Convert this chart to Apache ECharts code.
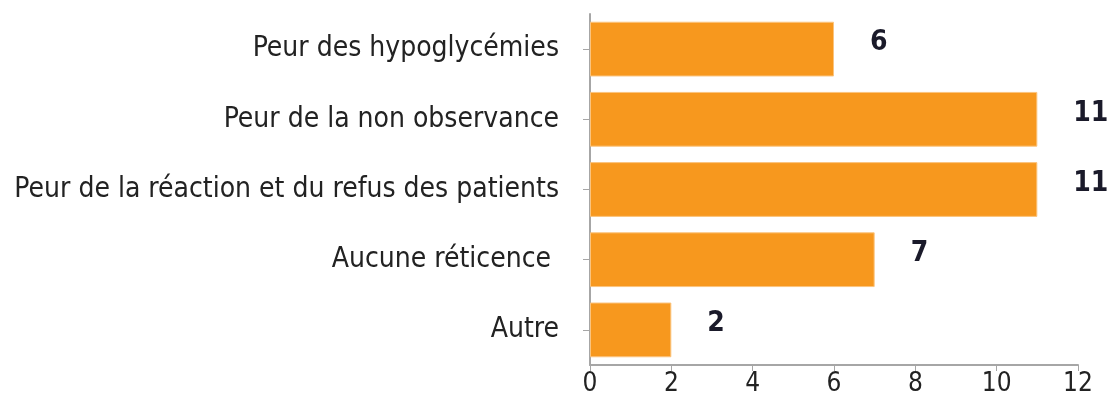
<!DOCTYPE html>
<html>
<head>
<meta charset="utf-8">
<script src="https://cdn.jsdelivr.net/npm/echarts@6/dist/echarts.min.js"></script>
<style>
  html, body { margin: 0; padding: 0; background: #fff; }
  #chart { width: 1116px; height: 403px; }
</style>
</head>
<body>
<div id="chart"></div>
<script>
// données
var categories = ['Peur des hypoglycémies', 'Peur de la non observance',
    'Peur de la réaction et du refus des patients', 'Aucune réticence ', 'Autre'];
var values = [6, 11, 11, 7, 2];
var xTicks = [0, 2, 4, 6, 8, 10, 12];

var font = '"Liberation Sans Narrow", "Arial Narrow", "DejaVu Sans Condensed", sans-serif';

var myChart = echarts.init(document.getElementById('chart'));
var option = {
    backgroundColor: '#fff',
    animation: false,
    grid: {
        left: 590,
        right: 38,
        top: 14,
        bottom: 38
    },
    xAxis: {
        type: 'value',
        min: xTicks[0],
        max: xTicks[xTicks.length - 1],
        interval: 2,
        splitLine: { show: false },
        axisLine: { show: true, lineStyle: { color: '#A6A6A6', width: 2 } },
        axisTick: { show: true, length: 6, lineStyle: { color: '#A6A6A6', width: 1 } },
        axisLabel: {
            fontFamily: font,
            fontSize: 26,
            color: '#222',
            margin: 6
        }
    },
    yAxis: {
        type: 'category',
        inverse: true,
        data: categories,
        axisLine: { show: true, lineStyle: { color: '#A6A6A6', width: 2 } },
        axisTick: { show: true, alignWithLabel: true, length: 7, lineStyle: { color: '#A6A6A6', width: 1 } },
        axisLabel: {
            fontFamily: font,
            fontSize: 28,
            color: '#222',
            margin: 31,
            padding: [8, 0, 0, 0]
        }
    },
    series: [{
        type: 'bar',
        data: values,
        barCategoryGap: '22%',
        itemStyle: {
            color: '#F7981E',
            borderColor: '#FBC47E',
            borderWidth: 1
        },
        label: {
            show: true,
            position: 'right',
            distance: 36,
            fontFamily: font,
            fontSize: 28,
            fontWeight: 'bold',
            color: '#1a1a2a',
            offset: [0, -6]
        }
    }]
};
myChart.setOption(option);
</script>
</body>
</html>
